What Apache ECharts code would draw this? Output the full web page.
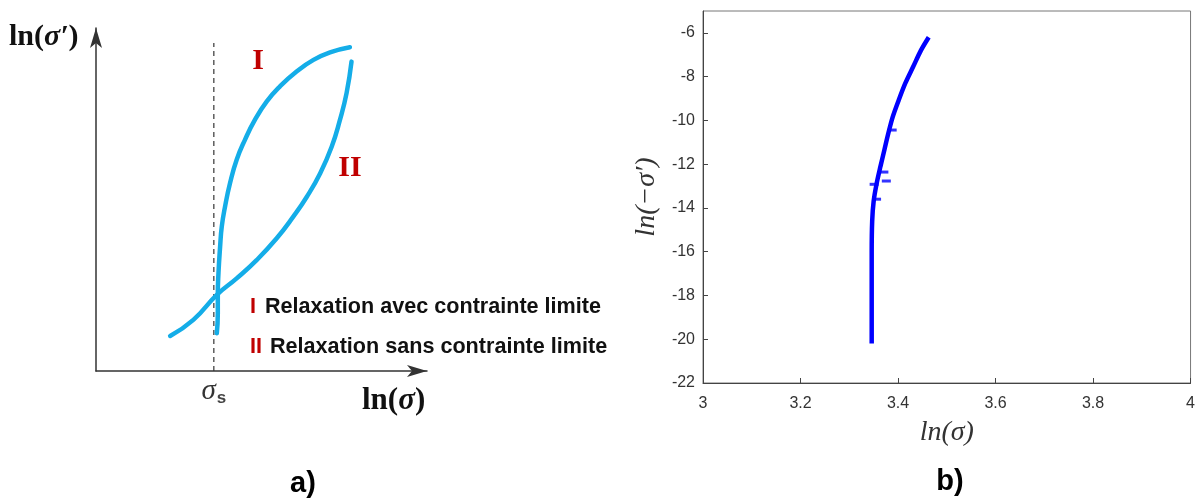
<!DOCTYPE html>
<html>
<head>
<meta charset="utf-8">
<script src="https://cdn.jsdelivr.net/npm/echarts@6/dist/echarts.min.js"></script>
<style>
  html, body { margin: 0; padding: 0; background: #fff; }
  #chart { width: 1198px; height: 502px; }
</style>
</head>
<body>
<div id="chart"></div>
<script>
// a) schematic, arbitrary units 0..10 on both axes
const sigmaS = 3.56;
const curveI = [[3.65, 1.1], [3.68, 1.68], [3.68, 2.22], [3.7, 2.85], [3.75, 3.63], [3.8, 4.21],
  [3.9, 4.8], [4.05, 5.48], [4.25, 6.16], [4.5, 6.74], [4.8, 7.32], [5.16, 7.86], [5.56, 8.3],
  [6.06, 8.73], [6.57, 9.07], [7.07, 9.29], [7.67, 9.44]];
const curveII = [[2.24, 1.02], [2.94, 1.49], [3.65, 2.22], [4.25, 2.7], [4.86, 3.24], [5.46, 3.87],
  [5.96, 4.5], [6.37, 5.08], [6.77, 5.76], [7.12, 6.54], [7.37, 7.32], [7.57, 8.1], [7.72, 9.02]];
const sigmaSLine = [[sigmaS, 0], [sigmaS, 9.56]];

// b) measured curve ln(sigma) vs ln(-sigma')
const lnSigma = [3.346, 3.346, 3.346, 3.346, 3.347, 3.35, 3.356, 3.364, 3.372, 3.38, 3.389,
  3.401, 3.415, 3.431, 3.447, 3.463];
const lnMinusSigmaP = [-20.2, -19, -17.6, -16, -14.6, -13.7, -12.9, -12.1, -11.35, -10.6, -9.85,
  -9.1, -8.3, -7.55, -6.8, -6.2];
// little scatter blips along the curve
const noise = [[3.351, -12.92], [3.376, -12.77], [3.371, -12.36], [3.388, -10.44], [3.356, -13.6]];
const xTicks = [3, 3.2, 3.4, 3.6, 3.8, 4];

let myChart = echarts.init(document.getElementById('chart'));

const blue = '#14ADE8';
const red = '#C00000';
const serif = 'Liberation Serif';
const sans = 'Liberation Sans';

let option = {
  animation: false,
  grid: [
    { left: 96, top: 28, width: 331, height: 343 },
    { left: 703, top: 11, width: 490, height: 372, show: true, borderColor: '#777', borderWidth: 1 },
  ],
  xAxis: [
    {
      gridIndex: 0,
      type: 'value',
      min: 0,
      max: 10,
      splitLine: { show: false },
      axisTick: { show: false },
      axisLine: {
        show: true,
        symbol: ['none', 'arrow'],
        symbolSize: [9, 20],
        lineStyle: { color: '#333', width: 1.5 },
      },
      axisLabel: {
        customValues: [sigmaS],
        margin: 5,
        formatter: () => '{a|σ}{b|s}',
        rich: {
          a: { fontFamily: serif, fontStyle: 'italic', fontSize: 29, color: '#333' },
          b: { fontFamily: sans, fontWeight: 'bold', fontSize: 17, color: '#444', padding: [14, 0, 0, 1] },
        },
      },
    },
    {
      gridIndex: 1,
      type: 'value',
      min: 3,
      max: 4,
      interval: 0.2,
      splitLine: { show: false },
      axisLine: { lineStyle: { color: '#444', width: 1 } },
      axisTick: { inside: true, length: 5, lineStyle: { color: '#444' } },
      axisLabel: {
        margin: 13,
        fontFamily: sans,
        fontSize: 16,
        color: '#333',
        formatter: v => String(+v.toFixed(1)),
        customValues: xTicks,
      },
      name: 'ln(σ)',
      nameLocation: 'middle',
      nameGap: 36,
      nameTextStyle: { fontFamily: serif, fontStyle: 'italic', fontSize: 28, color: '#333' },
    },
  ],
  yAxis: [
    {
      gridIndex: 0,
      type: 'value',
      min: 0,
      max: 10,
      splitLine: { show: false },
      axisTick: { show: false },
      axisLabel: { show: false },
      axisLine: {
        show: true,
        symbol: ['none', 'arrow'],
        symbolSize: [9, 20],
        lineStyle: { color: '#333', width: 1.5 },
      },
    },
    {
      gridIndex: 1,
      type: 'value',
      min: -22,
      max: -5,
      interval: 2,
      splitLine: { show: false },
      axisLine: { show: true, lineStyle: { color: '#444', width: 1 } },
      axisTick: { inside: true, length: 5, lineStyle: { color: '#444' } },
      axisLabel: { margin: 8, fontFamily: sans, fontSize: 16, color: '#333', showMaxLabel: false },
      name: 'ln(−σ′)',
      nameLocation: 'middle',
      nameGap: 42,
      nameTextStyle: { fontFamily: serif, fontStyle: 'italic', fontSize: 28, color: '#333' },
    },
  ],
  graphic: [
    {
      type: 'text', left: 9, top: 22,
      style: {
        text: '{n|ln(}{s|σ′}{n|)}',
        rich: {
          n: { fontFamily: serif, fontWeight: 'bold', fontSize: 30, fill: '#111' },
          s: { fontFamily: serif, fontWeight: 'bold', fontStyle: 'italic', fontSize: 30, fill: '#111' },
        },
      },
    },
    {
      type: 'text', left: 362, top: 385,
      style: {
        text: '{n|ln(}{s|σ}{n|)}',
        rich: {
          n: { fontFamily: serif, fontWeight: 'bold', fontSize: 31, fill: '#111' },
          s: { fontFamily: serif, fontWeight: 'bold', fontStyle: 'italic', fontSize: 31, fill: '#111' },
        },
      },
    },
    {
      type: 'text', x: 258, y: 61,
      style: { text: 'I', fontFamily: serif, fontWeight: 'bold', fontSize: 30, fill: red, align: 'center', verticalAlign: 'middle' },
    },
    {
      type: 'text', x: 350, y: 168,
      style: { text: 'II', fontFamily: serif, fontWeight: 'bold', fontSize: 30, fill: red, align: 'center', verticalAlign: 'middle' },
    },
    {
      type: 'text', x: 250, y: 307,
      style: {
        text: '{r|I}{t|Relaxation avec contrainte limite}',
        verticalAlign: 'middle',
        rich: {
          r: { fontFamily: sans, fontWeight: 'bold', fontSize: 21.6, fill: red, padding: [0, 9, 0, 0] },
          t: { fontFamily: sans, fontWeight: 'bold', fontSize: 21.6, fill: '#111' },
        },
      },
    },
    {
      type: 'text', x: 250, y: 347,
      style: {
        text: '{r|II}{t|Relaxation sans contrainte limite}',
        verticalAlign: 'middle',
        rich: {
          r: { fontFamily: sans, fontWeight: 'bold', fontSize: 21.6, fill: red, padding: [0, 8, 0, 0] },
          t: { fontFamily: sans, fontWeight: 'bold', fontSize: 21.6, fill: '#111' },
        },
      },
    },
    {
      type: 'text', x: 303, y: 484,
      style: { text: 'a)', fontFamily: sans, fontWeight: 'bold', fontSize: 29, fill: '#000', align: 'center', verticalAlign: 'middle' },
    },
    {
      type: 'text', x: 950, y: 482,
      style: { text: 'b)', fontFamily: sans, fontWeight: 'bold', fontSize: 29, fill: '#000', align: 'center', verticalAlign: 'middle' },
    },
  ],
  series: [
    {
      name: 'sigma-s',
      type: 'line',
      xAxisIndex: 0,
      yAxisIndex: 0,
      symbol: 'none',
      data: sigmaSLine,
      lineStyle: { color: '#333', width: 1.2, type: [5, 4] },
    },
    {
      name: 'I',
      type: 'line',
      xAxisIndex: 0,
      yAxisIndex: 0,
      smooth: 0.5,
      symbol: 'none',
      data: curveI,
      lineStyle: { color: blue, width: 4.5, cap: 'round' },
    },
    {
      name: 'II',
      type: 'line',
      xAxisIndex: 0,
      yAxisIndex: 0,
      smooth: 0.5,
      symbol: 'none',
      data: curveII,
      lineStyle: { color: blue, width: 4.5, cap: 'round' },
    },
    {
      name: 'measured',
      type: 'line',
      xAxisIndex: 1,
      yAxisIndex: 1,
      smooth: 0.3,
      symbol: 'none',
      data: lnSigma.map((x, i) => [x, lnMinusSigmaP[i]]),
      lineStyle: { color: '#0000FF', width: 4.5 },
    },
    {
      name: 'noise',
      type: 'scatter',
      xAxisIndex: 1,
      yAxisIndex: 1,
      symbol: 'rect',
      symbolSize: [9, 3],
      data: noise,
      itemStyle: { color: '#0000FF' },
    },
  ],
};
myChart.setOption(option);
</script>
</body>
</html>
